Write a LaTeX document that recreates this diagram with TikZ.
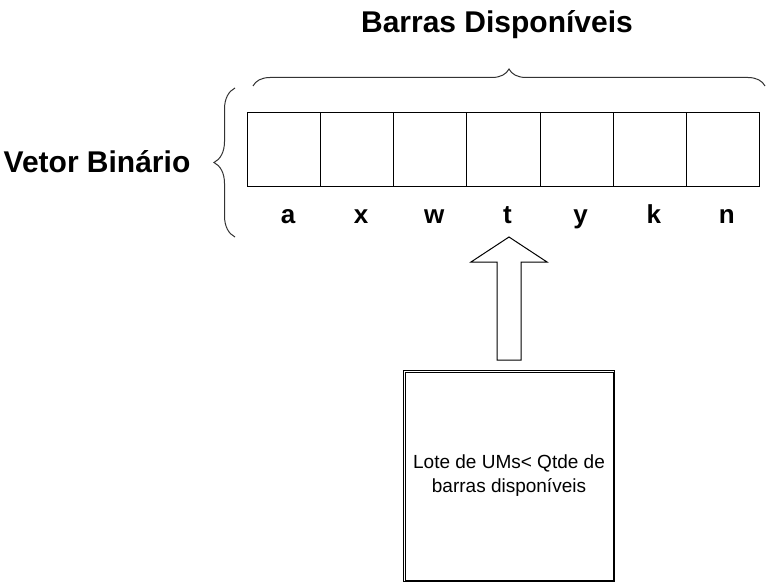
\documentclass[tikz,border=0pt]{standalone}
\usepackage{fontspec}
\setmainfont{Liberation Sans}
\usetikzlibrary{decorations.pathreplacing}
\begin{document}
\begin{tikzpicture}[x=1pt,y=-1pt,
  cell/.style={draw=black,line width=1pt,minimum width=73.14pt,minimum height=74pt,inner sep=0pt,anchor=north west},
  lbl/.style={font=\bfseries\fontsize{26}{28}\selectfont,anchor=base},
  title/.style={font=\bfseries\fontsize{30}{34}\selectfont},
  bracestyle/.style={draw=black!80,line width=1pt,decorate,decoration={brace,amplitude=#1}},
  boxstyle/.style={draw=black,line width=1pt,minimum width=211pt,minimum height=211pt,inner sep=0pt,align=center,font=\fontsize{19}{24}\selectfont}
]
\useasboundingbox (0,0) rectangle (769,586);
\foreach \i/\l in {0/a,1/x,2/w,3/t,4/y,5/k,6/n}{
  \node[cell] (c\i) at ({247+\i*73.14},112) {};
  \node[lbl] (l\i) at ([xshift=4pt]c\i.south |- 0,223) {\l};
}
\node[title] (ttl) at (497,25) {Barras Disponíveis};
\node[title] (vb) at (97,162) {Vetor Binário};
\coordinate (tb1) at (253,86);
\coordinate (tb2) at (765,86);
\draw[bracestyle=17pt] (tb1) -- (tb2);
\coordinate (lb1) at (235,237);
\coordinate (lb2) at (235,88);
\draw[bracestyle=21pt] (lb1) -- (lb2);
\node[boxstyle] (box) at (509,476) {Lote de UMs< Qtde de\\barras disponíveis};
\draw[line width=1pt] ([xshift=2pt,yshift=-2pt]box.north west) rectangle ([xshift=-2pt,yshift=2pt]box.south east);
\coordinate (tip) at (509,237);
\draw[line width=1pt,line join=miter] (497,360) -- (497,262) -- (471,262) -- (tip) -- (547,262) -- (521,262) -- (521,360) -- cycle;
\end{tikzpicture}
\end{document}
